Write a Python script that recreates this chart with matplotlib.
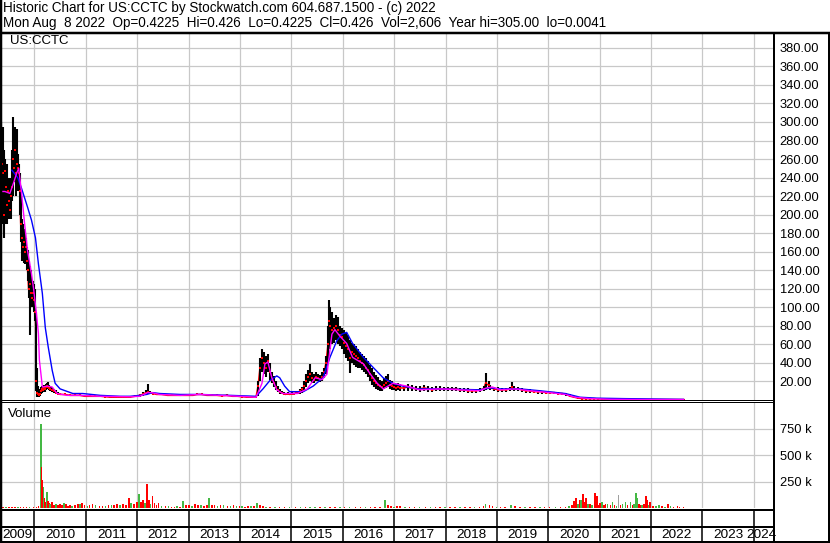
import numpy as np
import matplotlib.pyplot as plt
from matplotlib.lines import Line2D
from matplotlib.ticker import FormatStrFormatter

plt.rcParams['font.family'] = ['Liberation Sans', 'DejaVu Sans']

# weekly bars, week 0 = start of May 2009
wk = [0, 1, 2, 3, 4, 5, 6, 7, 8, 9, 10, 11, 12, 13, 14, 15, 16, 17, 18, 19,
      20, 21, 22, 23, 24, 25, 26, 27, 28, 29, 30, 31, 32, 34, 35, 36, 37, 38, 39, 40,
      41, 42, 43, 44, 45, 46, 47, 48, 49, 50, 51, 53, 55, 57, 59,
      61, 66, 71, 76, 81, 86, 91, 96, 102, 107, 112, 117, 122, 127, 132, 137, 142, 145, 148,
      150, 152, 155, 159, 164, 170, 175, 180, 186, 191, 196, 200, 205, 210, 215, 220, 225,
      230, 236, 241, 246, 251, 256, 260,
      262, 264, 266, 268, 270, 272, 274, 276, 278, 280, 282, 284, 286, 288, 290, 292, 294,
      296, 299, 301, 303, 305, 307, 309, 311, 313, 315, 317, 319, 321, 323, 325, 327, 329,
      331, 333, 334, 335, 337, 339, 341, 343, 345, 347, 349, 351, 353, 355, 357, 359, 361,
      364, 366, 368, 370, 372, 374, 376, 378, 380, 382, 384, 386, 388, 390, 392, 394, 396,
      398, 400, 402, 404, 406,
      410, 414, 418, 422, 426, 431, 435, 439, 443, 447, 451, 455, 459, 463, 467, 471, 475,
      479, 483, 487, 491, 493, 496, 498, 502, 506, 510, 514, 518, 520, 522, 526, 530, 534,
      538, 542, 546, 550, 554, 558, 563, 567, 571, 575, 579, 583, 587, 591, 595, 599, 603,
      607, 611, 615, 619, 623, 630, 640, 650, 660, 670, 680, 694]
hi = [290, 300, 285, 295, 270, 260, 250, 255, 240, 235, 240, 225, 270, 305, 290, 295, 280, 292, 265, 255,
      245, 225, 195, 190, 185, 180, 175, 165, 162, 150, 145, 140, 130, 128, 125, 120, 95, 35, 15, 12,
      10, 14, 15, 14, 16, 15, 17, 18, 19, 16, 15, 14, 12, 11, 9,
      8, 7, 7, 6, 6, 5, 5, 5, 5, 4, 4, 4, 4, 4, 4, 5, 6, 9, 11,
      17, 10, 9, 8, 7, 6, 6, 6, 7, 6, 6, 7, 7, 6, 6, 6, 5,
      6, 5, 5, 4, 4, 4, 4,
      20, 45, 55, 52, 48, 50, 40, 30, 26, 20, 15, 12, 10, 9, 8, 9, 8,
      9, 8, 9, 10, 12, 14, 20, 28, 32, 39, 30, 28, 30, 28, 27, 30, 35,
      48, 80, 108, 100, 95, 88, 92, 90, 80, 78, 75, 72, 70, 65, 62, 60, 58,
      55, 52, 50, 48, 45, 42, 38, 34, 30, 27, 25, 22, 20, 24, 26, 28, 22,
      20, 18, 17, 18, 17,
      16, 17, 16, 15, 15, 16, 15, 14, 15, 15, 14, 14, 14, 14, 13, 13, 13,
      12, 12, 13, 15, 29, 20, 16, 14, 14, 13, 13, 14, 19, 15, 14, 13, 12,
      12, 11, 11, 10, 10, 9, 9, 9, 8, 7, 6, 4, 3, 2.5, 2.5, 2, 2.5,
      2, 1.5, 1.2, 1, 1, 0.8, 0.7, 0.6, 0.6, 0.5, 0.5, 0.43]
lo = [175, 180, 190, 200, 175, 205, 190, 190, 200, 195, 200, 195, 215, 220, 235, 240, 220, 230, 225, 230,
      200, 170, 150, 150, 148, 147, 150, 140, 128, 110, 70, 105, 100, 104, 95, 85, 10, 3, 4, 3,
      4, 7, 8, 9, 10, 9, 11, 12, 12, 11, 10, 9, 8, 7, 6,
      5, 5, 4, 4, 4, 3, 3, 3, 3, 3, 2.5, 2.5, 2.5, 2, 2.5, 3, 3, 4, 5,
      6, 6, 6, 5, 5, 4, 4, 4, 4, 4, 4, 5, 5, 4, 4, 4, 4,
      4, 4, 3, 3, 2.5, 2.5, 3,
      4, 20, 30, 28, 25, 30, 22, 18, 14, 11, 9, 7, 6, 5, 5, 5, 5,
      5, 5, 6, 6, 7, 8, 10, 14, 18, 20, 18, 18, 20, 20, 19, 20, 24,
      28, 40, 60, 55, 60, 62, 65, 60, 58, 55, 50, 45, 42, 29, 40, 38, 36,
      35, 34, 32, 30, 28, 25, 20, 16, 14, 12, 11, 10, 10, 12, 13, 14, 12,
      11, 11, 10, 11, 10,
      10, 10, 10, 10, 9, 10, 9, 9, 10, 10, 10, 10, 10, 10, 9, 9, 8,
      8, 8, 9, 10, 11, 12, 11, 10, 9, 9, 9, 10, 11, 10, 10, 9, 8,
      8, 8, 7, 7, 7, 6, 6, 6, 5, 4, 3, 2, 1.5, 1, 1, 0.8, 1,
      0.8, 0.6, 0.5, 0.5, 0.5, 0.4, 0.4, 0.4, 0.4, 0.4, 0.4, 0.42]
cl = [240, 220, 255, 245, 200, 247, 230, 210, 225, 215, 205, 220, 230, 260, 250, 270, 245, 255, 250, 245,
      225, 190, 175, 165, 170, 160, 165, 150, 140, 120, 125, 115, 110, 115, 108, 95, 20, 8, 6, 5,
      7, 10, 12, 11, 13, 12, 14, 15, 14, 13, 12, 11, 10, 8, 7,
      6, 6, 5, 5, 5, 4, 4, 4, 4, 3.5, 3, 3, 3, 3, 3, 4, 5, 6, 8,
      9, 8, 7, 6, 6, 5, 5, 5, 5, 5, 5, 6, 6, 5, 5, 5, 4.5,
      5, 4, 4, 3.5, 3, 3, 3.5,
      15, 35, 45, 40, 35, 42, 30, 22, 18, 14, 11, 9, 8, 7, 6, 7, 6,
      7, 7, 8, 8, 10, 12, 15, 20, 25, 28, 24, 22, 25, 24, 22, 25, 30,
      40, 60, 85, 80, 75, 78, 80, 75, 70, 68, 62, 58, 55, 45, 52, 50, 48,
      45, 42, 40, 38, 35, 32, 28, 24, 20, 18, 16, 15, 14, 16, 18, 20, 16,
      15, 14, 13, 14, 13,
      13, 14, 13, 12, 12, 13, 12, 11, 12, 12, 12, 12, 12, 12, 11, 11, 10,
      10, 10, 11, 12, 18, 16, 13, 12, 11, 11, 11, 12, 14, 12, 12, 11, 10,
      10, 9, 9, 9, 8, 8, 8, 7, 7, 6, 4, 3, 2, 1.5, 1.5, 1.2, 1.5,
      1.2, 1, 0.8, 0.7, 0.7, 0.6, 0.5, 0.5, 0.5, 0.45, 0.45, 0.43]

# short moving average (magenta)
ma1_wk = [0, 5, 10, 14, 17, 19, 22, 25, 28, 32, 34, 37, 39, 40, 42, 43, 48, 53, 58, 68,
          81, 102, 132, 142, 150, 154, 162, 183, 203, 223, 244, 260, 266, 269, 272, 276,
          281, 287, 302, 312, 320, 327, 332, 337, 340, 345, 352, 358, 369, 376, 383, 389,
          399, 413, 426, 447, 467, 487, 494, 500, 508, 523, 538, 558, 574, 584, 599, 619,
          650, 694]
ma1 = [225, 225, 223, 235, 245, 250, 222, 190, 161, 136, 121, 93, 72, 43, 24, 14, 15, 14, 7, 5,
       5, 4, 3.5, 4, 8, 8, 6, 5, 6, 5, 4, 3, 18, 39, 41, 24,
       11, 7, 7, 12, 24, 22, 28, 71, 76, 69, 61, 46, 39, 28, 18, 12,
       18, 15, 11, 12, 11, 10, 13, 14, 11, 12, 10, 8, 6, 3, 1.5, 0.8,
       0.5, 0.45]

# long moving average (blue)
ma2_wk = [12, 18, 22, 25, 28, 32, 36, 39, 43, 46, 49, 53, 56, 61, 74, 84, 102, 122, 132, 142,
          149, 155, 162, 183, 203, 234, 260, 267, 274, 281, 284, 289, 294, 308, 318, 328,
          335, 342, 347, 352, 358, 369, 379, 389, 399, 409, 423, 447, 487, 498, 508, 528,
          548, 574, 589, 606, 633, 694]
ma2 = [248, 240, 228, 218, 208, 194, 175, 147, 115, 78, 57, 32, 18, 12, 7, 7, 5, 4, 4, 5,
       6, 8, 7, 6, 6, 5, 4, 12, 21, 26, 24, 15, 9, 9, 15, 24,
       46, 64, 71, 73, 61, 46, 35, 24, 18, 15, 12, 12, 11, 13, 12, 12,
       10, 7, 3, 2, 1.5, 0.7]

# weekly volume in thousands, g = up, r = down, n = unchanged
vol_wk = [0, 3, 6, 9, 12, 15, 18, 21, 24, 27, 30, 34, 37, 39, 41, 41.5, 42, 43, 44, 45,
          46, 47, 48, 49, 50, 51, 53, 55, 57, 59, 61, 63, 65, 67, 69, 71, 73, 76, 79, 81,
          83, 86, 89, 91, 94, 97, 101, 104, 107, 110, 113, 116, 119, 122, 125, 128, 131, 133, 136, 139,
          141, 143, 145, 147, 149, 151, 153, 155, 157, 159, 161, 164, 168, 171, 174, 177, 180, 183, 186, 189,
          192, 195, 198, 201, 204, 207, 210, 212, 215, 218, 221, 224, 227, 231, 234, 237, 240, 243, 246, 249,
          252, 255, 258, 261, 264, 267, 270, 274, 279, 284, 289, 294, 300, 305, 310, 315, 320, 325, 330, 335,
          340, 345, 350, 355, 361, 366, 371, 376, 381, 386, 391, 394, 397, 400, 403, 406, 411, 416, 421, 426,
          432, 437, 442, 447, 452, 457, 462, 467, 472, 477, 482, 487, 491, 493, 497, 500, 504, 508, 513, 519,
          523, 528, 533, 538, 543, 548, 553, 558, 564, 569, 574, 578, 581, 583, 585, 587, 589, 590, 592, 594,
          595, 597, 599, 601, 604, 606, 607, 609, 611, 613, 615, 617, 620, 622, 624, 626, 628, 630, 632, 635,
          637, 640, 642, 644, 646, 647, 649, 650, 652, 654, 656, 657, 659, 660, 663, 666, 669, 672, 675, 678,
          681, 684, 688, 690, 694]
vol_k = [6, 8, 5, 7, 6, 8, 6, 7, 9, 6, 8, 10, 14, 20, 60, 790, 390, 264, 198, 90,
         60, 110, 151, 70, 45, 40, 55, 30, 35, 25, 40, 30, 45, 35, 20, 30, 20, 25, 35, 40,
         45, 30, 20, 25, 35, 25, 20, 15, 20, 25, 30, 25, 35, 25, 40, 30, 98, 45, 40, 55,
         132, 60, 75, 50, 226, 80, 40, 113, 50, 30, 45, 20, 15, 18, 12, 10, 15, 12, 66, 25,
         30, 20, 35, 25, 30, 20, 25, 98, 30, 25, 20, 30, 25, 20, 15, 25, 20, 15, 20, 12,
         15, 20, 15, 45, 25, 15, 12, 10, 8, 10, 8, 8, 6, 8, 10, 12, 8, 10, 8, 12,
         10, 8, 12, 8, 10, 8, 10, 8, 10, 8, 75, 30, 20, 12, 18, 15, 10, 12, 8, 12,
         10, 8, 10, 8, 10, 8, 10, 8, 10, 8, 10, 12, 20, 38, 25, 15, 10, 12, 10, 30,
         15, 10, 8, 10, 8, 8, 10, 8, 8, 10, 12, 20, 25, 66, 94, 40, 75, 75, 132, 60,
         94, 35, 40, 30, 144, 113, 28, 50, 57, 30, 35, 35, 25, 57, 30, 20, 123, 28, 35, 57,
         25, 57, 30, 40, 145, 94, 40, 28, 30, 35, 113, 75, 30, 57, 20, 15, 25, 15, 12, 38,
         15, 12, 19, 10, 8]
vol_dir = ['r', 'r', 'g', 'r', 'r', 'r', 'g', 'r', 'r', 'r', 'g', 'r', 'r', 'r', 'g', 'g', 'r', 'r', 'g', 'r',
           'r', 'g', 'g', 'r', 'r', 'g', 'r', 'r', 'g', 'r', 'r', 'r', 'g', 'r', 'r', 'r', 'g', 'r', 'r', 'g',
           'r', 'r', 'g', 'r', 'r', 'g', 'r', 'r', 'g', 'r', 'g', 'r', 'r', 'g', 'r', 'r', 'r', 'g', 'r', 'r',
           'g', 'r', 'r', 'g', 'r', 'r', 'g', 'r', 'r', 'r', 'r', 'g', 'r', 'g', 'r', 'r', 'g', 'r', 'g', 'r',
           'r', 'g', 'r', 'r', 'g', 'r', 'r', 'g', 'r', 'r', 'g', 'r', 'g', 'r', 'g', 'r', 'g', 'r', 'g', 'r',
           'r', 'g', 'r', 'g', 'r', 'r', 'g', 'r', 'g', 'r', 'r', 'g', 'r', 'g', 'r', 'g', 'g', 'r', 'g', 'r',
           'r', 'g', 'r', 'g', 'r', 'r', 'g', 'r', 'r', 'r', 'g', 'r', 'r', 'g', 'r', 'r', 'g', 'r', 'r', 'g',
           'r', 'g', 'r', 'r', 'g', 'r', 'r', 'g', 'r', 'r', 'g', 'r', 'r', 'g', 'r', 'r', 'g', 'r', 'r', 'g',
           'r', 'r', 'g', 'r', 'r', 'g', 'r', 'r', 'g', 'r', 'r', 'g', 'r', 'r', 'r', 'g', 'r', 'g', 'r', 'r',
           'r', 'g', 'r', 'g', 'r', 'r', 'r', 'r', 'g', 'r', 'r', 'g', 'r', 'g', 'r', 'g', 'n', 'r', 'g', 'g',
           'r', 'g', 'r', 'g', 'g', 'g', 'r', 'r', 'g', 'r', 'r', 'r', 'g', 'r', 'r', 'g', 'g', 'r', 'g', 'r',
           'g', 'r', 'r', 'r', 'r']

year_labels = [str(y) for y in range(2009, 2025)]

T0 = 2009.331          # left edge of chart
T1 = 2024.392          # right edge of chart


def to_year(w):
    return T0 + np.asarray(w, dtype=float) / 52.18


W, H = 830, 543
fig = plt.figure(figsize=(W / 100, H / 100), dpi=100)
fig.patch.set_facecolor('white')


def box(l, t, r, b):
    return [l / W, 1 - b / H, (r - l) / W, (b - t) / H]


def hline(y, x0, x1, lw):
    fig.add_artist(Line2D([x0 / W, x1 / W], [1 - y / H, 1 - y / H], color='k',
                          lw=lw * 0.72, solid_capstyle='butt'))


def vline(x, y0, y1, lw):
    fig.add_artist(Line2D([x / W, x / W], [1 - y0 / H, 1 - y1 / H], color='k',
                          lw=lw * 0.72, solid_capstyle='butt'))


grid_kw = dict(color='#c8c8c8', lw=0.9)
years = np.arange(2010, 2025)

# price panel
ax = fig.add_axes(box(0, 33.5, 774, 400))
ax.set_xlim(T0, T1)
ax.set_ylim(0, 395.5)
ax.set_xticks(years)
ax.set_yticks(np.arange(20, 400, 20))
ax.grid(**grid_kw)
ax.set_axisbelow(True)
ax.tick_params(axis='x', length=0, labelbottom=False)
ax.tick_params(axis='y', length=0, left=False, labelleft=False, labelright=True,
               pad=4, labelsize=9.3)
ax.yaxis.set_major_formatter(FormatStrFormatter('%.2f'))
for s in ax.spines.values():
    s.set_visible(False)

t = to_year(wk)
ax.plot(t, cl, color='red', lw=1.1, zorder=2)
ax.vlines(t, lo, hi, color='black', lw=1.5, zorder=3)
ax.plot(t, cl, 's', color='red', ms=1.5, mew=0, zorder=4)
ax.plot(to_year(ma2_wk), ma2, color='#0000ff', lw=1.0, zorder=5)
ax.plot(to_year(ma1_wk), ma1, color='#ff00ff', lw=1.0, zorder=6)
ax.text(10 / 774, 1 - 7.5 / 366.5, 'US:CCTC', transform=ax.transAxes,
        va='center', ha='left', fontsize=9.5)

# volume panel
axv = fig.add_axes(box(0, 402, 774, 508))
axv.set_xlim(T0, T1)
axv.set_ylim(0, 1000)
axv.set_xticks(years)
axv.set_yticks([250, 500, 750])
axv.set_yticklabels(['250 k', '500 k', '750 k'])
axv.grid(**grid_kw)
axv.set_axisbelow(True)
axv.tick_params(axis='x', length=0, labelbottom=False)
axv.tick_params(axis='y', length=0, left=False, labelleft=False, labelright=True,
                pad=4, labelsize=9.3)
for s in axv.spines.values():
    s.set_visible(False)
cmap = {'g': '#44b844', 'r': '#ff0000', 'n': '#a0a0a0'}
axv.bar(to_year(vol_wk), vol_k, width=1.6 / 52.18, color=[cmap[c] for c in vol_dir],
        linewidth=0, zorder=3)
axv.text(8 / 774, 1 - 12 / 106, 'Volume', transform=axv.transAxes,
         va='center', ha='left', fontsize=9.5)

# date strip
axd = fig.add_axes(box(0, 509, 774, 542))
axd.set_xlim(T0, T1)
axd.set_ylim(542, 509)
axd.axis('off')
for y in years:
    axd.plot([y, y], [509, 542], color='k', lw=1.1, solid_capstyle='butt')
for i, lab in enumerate(year_labels):
    y0 = max(2009 + i, T0)
    y1 = min(2010 + i, T1)
    if y1 >= T1:
        # last, partial year: label runs up to the axis line
        axd.text(T1 + 3 / 51.4, 535, lab, ha='right', va='center', fontsize=9.7)
    else:
        axd.text((y0 + y1) / 2, 535, lab, ha='center', va='center', fontsize=9.7)

# frame lines
hline(32.5, 0, W, 2.5)
hline(400, 0, 774, 1)
hline(402, 0, 774, 1)
hline(509.5, 0, 774, 2)
hline(527, 0, 774, 2)
hline(541.5, 0, W, 2)
vline(1, 0, H, 2.5)
vline(774, 32, 542, 2)
vline(828.5, 32, 542, 2)

# header
fig.text(3 / W, 1 - 8 / H, 'Historic Chart for US:CCTC by Stockwatch.com 604.687.1500 - (c) 2022',
         va='center', ha='left', fontsize=9.75)
fig.text(3 / W, 1 - 23 / H,
         'Mon Aug  8 2022  Op=0.4225  Hi=0.426  Lo=0.4225  Cl=0.426  Vol=2,606  Year hi=305.00  lo=0.0041',
         va='center', ha='left', fontsize=9.75)

fig.savefig('out.png', dpi=100)
